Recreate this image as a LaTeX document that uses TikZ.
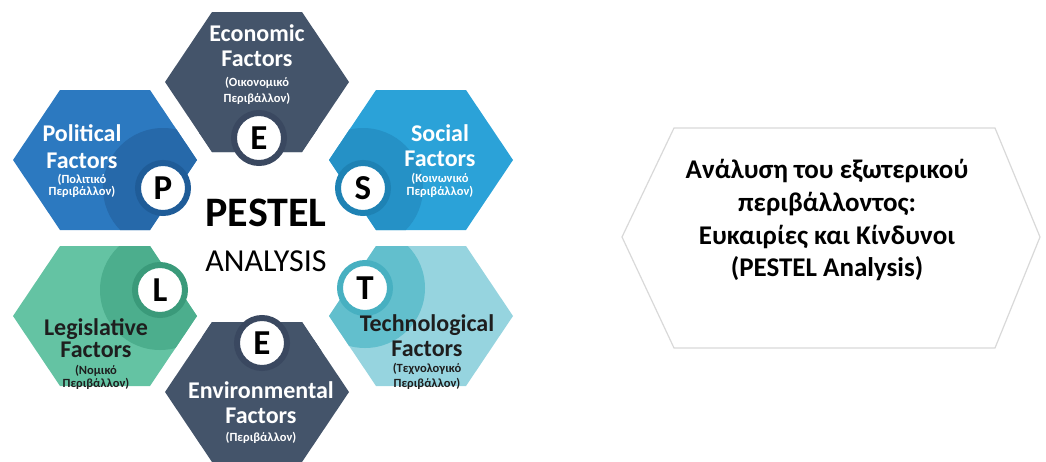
\documentclass[tikz,border=0pt]{standalone}
\usepackage{fontspec}
\setmainfont{Carlito}
\usepackage{tikz}
\definecolor{econ}{HTML}{44546A}
\definecolor{econring}{HTML}{3A4860}
\definecolor{polit}{HTML}{2C79C0}
\definecolor{politdark}{HTML}{2669AA}
\definecolor{politring}{HTML}{1F5C98}
\definecolor{soc}{HTML}{2BA2D8}
\definecolor{socdark}{HTML}{2591C6}
\definecolor{socring}{HTML}{1E82B4}
\definecolor{legis}{HTML}{64C3A3}
\definecolor{legisdark}{HTML}{4CAE8D}
\definecolor{legisring}{HTML}{3A9A7A}
\definecolor{tech}{HTML}{96D4DF}
\definecolor{techdark}{HTML}{62BFCD}
\definecolor{techring}{HTML}{47B0C1}
\definecolor{darktext}{HTML}{1E1E1E}
\tikzstyle{hextitle} = [anchor=base, inner sep=0pt, font=\bfseries\fontsize{24}{26}\selectfont]
\tikzstyle{hexsub} = [anchor=base, inner sep=0pt, font=\bfseries\fontsize{12.5}{13}\selectfont]
\tikzstyle{lettercirc} = [circle, fill=white, line width=6pt, minimum size=50pt, inner sep=0pt, font=\bfseries\fontsize{35}{35}\selectfont]
\tikzstyle{boxline} = [anchor=base, inner sep=0pt, font=\bfseries\fontsize{27}{29}\selectfont]

\begin{document}
\begin{tikzpicture}[x=1pt,y=-1pt]
\useasboundingbox (0,0) rectangle (1046,461);
% six hexagons, darker disc round each letter
\foreach \cx/\cy/\base/\shade/\lx/\ly in {257/82/econ/econ/259/138, 105/160/polit/politdark/163/188, 421/160/soc/socdark/363/188, 105/316/legis/legisdark/160/290, 421/316/tech/techdark/365/288, 257/392/econ/econ/262/343}
{
  \begin{scope}
    \clip (\cx,\cy) ++(-92,0) -- ++(47,-70) -- ++(90,0) -- ++(47,70) -- ++(-47,70) -- ++(-90,0) -- cycle;
    \fill[\base] (\cx-100,\cy-80) rectangle (\cx+100,\cy+80);
    \fill[\shade] (\lx,\ly) circle (60pt);
  \end{scope}
}

% letters
\node[lettercirc, draw=econring] (eletter) at (259,138) {E};
\node[lettercirc, draw=politring] (pletter) at (163,188) {P};
\node[lettercirc, draw=socring] (sletter) at (363,188) {S};
\node[lettercirc, draw=legisring] (lletter) at (160,290) {L};
\node[lettercirc, draw=techring] (tletter) at (365,288) {T};
\node[lettercirc, draw=econring] (enletter) at (262,343) {E};

% centre
\node[anchor=base, font=\bfseries\fontsize{42}{42}\selectfont] (pestel) at (266,226) {PESTEL};
\node[anchor=base, font=\fontsize{32}{32}\selectfont] (analysis) at (266,271) {ANALYSIS};

% hexagon texts
\node[hextitle, text=white] (econ1) at (257,41) {Economic};
\node[hextitle, text=white] (econ2) at (257,66) {Factors};
\node[hexsub, text=white] (econ3) at (257,86) {(Οικονομικό};
\node[hexsub, text=white] (econ4) at (257,102) {Περιβάλλον)};

\node[hextitle, text=white] (pol1) at (82,141) {Political};
\node[hextitle, text=white] (pol2) at (82,168) {Factors};
\node[hexsub, text=white] (pol3) at (82,183) {(Πολιτικό};
\node[hexsub, text=white] (pol4) at (82,195) {Περιβάλλον)};

\node[hextitle, text=white] (soc1) at (440,141) {Social};
\node[hextitle, text=white] (soc2) at (440,166) {Factors};
\node[hexsub, text=white] (soc3) at (440,182) {(Κοινωνικό};
\node[hexsub, text=white] (soc4) at (440,195) {Περιβάλλον)};

\node[hextitle, text=darktext] (leg1) at (96,335) {Legislative};
\node[hextitle, text=darktext] (leg2) at (96,357) {Factors};
\node[hexsub, text=darktext] (leg3) at (96,374) {(Νομικό};
\node[hexsub, text=darktext] (leg4) at (96,387) {Περιβάλλον)};

\node[hextitle, text=darktext] (tech1) at (427,331) {Technological};
\node[hextitle, text=darktext] (tech2) at (427,356) {Factors};
\node[hexsub, text=darktext] (tech3) at (427,372) {(Τεχνολογικό};
\node[hexsub, text=darktext] (tech4) at (427,387) {Περιβάλλον)};

\node[hextitle, text=white] (env1) at (261,398) {Environmental};
\node[hextitle, text=white] (env2) at (261,423) {Factors};
\node[hexsub, text=white] (env3) at (261,441) {(Περιβάλλον)};

% right box
\draw[gray!30, line width=1.2pt, fill=white] (622,237) -- (674,128) -- (995,128) -- (1040,237) -- (995,348) -- (674,348) -- cycle;
\node[boxline] (box1) at (827,178) {Ανάλυση του εξωτερικού};
\node[boxline] (box2) at (827,211) {περιβάλλοντος:};
\node[boxline] (box3) at (827,244) {Ευκαιρίες και Κίνδυνοι};
\node[boxline] (box4) at (827,276) {(PESTEL Analysis)};
\end{tikzpicture}
\end{document}
